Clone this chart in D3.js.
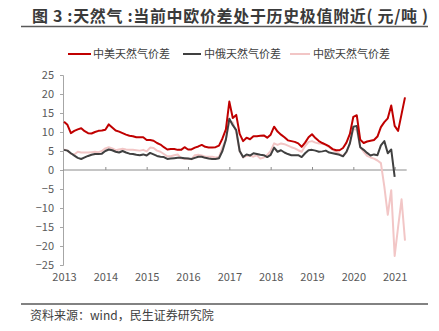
<!DOCTYPE html>
<html><head><meta charset="utf-8">
<script src="https://cdn.jsdelivr.net/npm/d3@7"></script>
<style>
body{margin:0;background:#fff;}
svg{display:block;font-family:"Noto Sans CJK SC","Noto Sans",sans-serif;}
</style></head>
<body><svg id="c" width="439" height="331"></svg>
<script>
const yearLabels = ["2013","2014","2015","2016","2017","2018","2019","2020","2021"];
const seriesNames = ["中美天然气价差","中俄天然气价差","中欧天然气价差"];
// monthly values, Jan 2013 onward
const usSpread = [12.7,11.9,9.7,10.3,10.7,11.0,10.2,9.7,9.6,10.0,10.3,10.4,10.6,12.0,11.2,10.4,10.1,9.7,9.3,9.0,
8.9,8.6,8.6,8.6,7.9,7.9,7.7,7.1,6.7,6.0,5.4,5.5,5.5,5.3,5.3,6.0,5.4,5.4,5.9,6.2,
6.6,6.1,5.9,5.9,6.0,6.4,8.3,10.7,18.0,13.7,14.5,9.5,7.6,8.5,8.1,8.9,8.9,9.0,9.1,8.5,
9.3,11.4,10.1,9.3,8.6,7.8,7.6,7.4,7.0,6.1,7.2,8.6,9.4,8.4,7.6,7.1,6.7,6.2,5.5,5.2,
5.2,5.8,7.2,9.5,14.0,14.4,8.0,7.1,7.5,7.7,7.9,8.8,11.3,12.6,13.6,17.0,11.6,10.3,14.7,19.1];
const ruSpread = [5.3,5.1,4.4,3.8,3.2,2.9,3.3,3.7,4.0,4.2,4.2,4.3,5.0,5.4,5.2,4.8,4.6,5.0,4.6,4.3,
4.2,4.0,3.9,4.1,3.8,4.5,4.1,3.7,3.5,3.4,2.9,3.0,3.1,3.2,3.2,3.1,3.0,2.9,3.2,3.5,
3.5,3.2,3.0,2.9,2.9,3.1,5.0,8.0,13.5,11.8,10.5,5.0,3.4,4.1,3.8,4.4,4.2,4.0,3.9,3.4,
4.0,5.9,4.8,5.2,4.6,4.2,3.9,3.9,3.9,3.4,4.4,5.2,5.3,5.1,4.8,4.9,5.1,4.6,4.4,4.2,
4.0,3.6,4.8,7.0,11.4,11.6,6.0,5.3,4.5,3.8,4.1,3.9,6.5,7.6,4.4,5.4,-1.8];
const euSpread = [5.4,5.1,4.3,4.1,4.8,4.6,4.6,4.6,4.7,4.8,4.7,5.0,5.7,6.0,5.7,5.2,5.4,5.6,5.4,5.3,
5.3,5.2,5.1,5.3,4.9,5.9,5.8,5.1,4.8,4.2,3.6,3.6,3.9,4.1,3.1,2.9,3.0,2.8,3.9,4.0,
3.8,3.5,3.5,3.5,3.3,3.4,6.0,8.0,12.8,12.5,10.0,5.0,3.3,3.7,3.8,3.5,3.9,3.0,3.3,4.0,
5.0,7.0,6.6,7.0,6.8,6.4,6.0,5.7,5.2,4.8,6.3,7.4,7.6,7.2,7.0,6.9,6.6,6.0,5.3,4.8,
4.2,3.7,4.6,7.0,10.8,10.6,6.0,4.8,3.7,3.3,3.0,2.5,1.8,-4.4,-11.8,-5.3,-22.6,-15.0,-7.7,-18.6];
const yTicks = [25,20,15,10,5,0,-5,-10,-15,-20,-25];

const colors = ["#C00000","#404040","#F2C6C6"];
const svg = d3.select("#c");
const x = d3.scaleLinear().domain([0,99]).range([64,405]);
const y = d3.scaleLinear().domain([-25,25]).range([265,75]);

// title
svg.append("text").attr("x",32).attr("y",22).attr("font-size",16).attr("font-weight","bold")
  .attr("fill","#3a3a3a").attr("textLength",396).attr("lengthAdjust","spacing")
  .text("图 3 :天然气 :当前中欧价差处于历史极值附近( 元/吨 )");
svg.append("line").attr("x1",21).attr("x2",428).attr("y1",26.5).attr("y2",26.5)
  .attr("stroke","#595959").attr("stroke-width",1.5);

// legend
const legX = [[68,91,93],[183,201,204],[290,310,313]];
seriesNames.forEach((n,i)=>{
  svg.append("line").attr("x1",legX[i][0]).attr("x2",legX[i][1]).attr("y1",54).attr("y2",54)
    .attr("stroke",colors[i]).attr("stroke-width",2);
  svg.append("text").attr("x",legX[i][2]).attr("y",58).attr("font-size",11).attr("fill","#404040").text(n);
});

// y axis
const ya = svg.append("g").attr("transform","translate(63,0)")
  .call(d3.axisLeft(y).tickValues(yTicks).tickSize(3).tickPadding(6).tickFormat(d3.format("d")));
ya.select(".domain").attr("stroke","#a6a6a6");
ya.selectAll(".tick line").attr("stroke","#a6a6a6");
ya.selectAll("text").attr("font-size",11).attr("fill","#595959").attr("font-family","Noto Sans CJK SC");

// x axis at zero
const xTickIdx = yearLabels.map((d,i)=>i*12);
const xa = svg.append("g").attr("transform",`translate(0,${y(0)})`)
  .call(d3.axisTop(x).tickValues(xTickIdx.slice(1)).tickSize(3).tickFormat(""));
xa.select(".domain").attr("d",`M${x(0)-1},0H406.7`).attr("stroke","#8c8c8c");
xa.selectAll(".tick line").attr("stroke","#8c8c8c");
// x labels at bottom
const xl = svg.append("g").attr("transform","translate(0,270)")
  .call(d3.axisBottom(x).tickValues(xTickIdx).tickSize(0).tickPadding(3).tickFormat((d,i)=>yearLabels[i]));
xl.select(".domain").remove();
xl.selectAll("text").attr("font-size",11).attr("fill","#595959").attr("font-family","Noto Sans CJK SC");

// lines
const line = d3.line().x((d,i)=>x(i)).y(d=>y(d)).curve(d3.curveLinear);
[euSpread, ruSpread, usSpread].forEach((s,k)=>{
  const ci = [2,1,0][k];
  svg.append("path").datum(s).attr("d",line).attr("fill","none")
    .attr("stroke",colors[ci]).attr("stroke-width",2).attr("stroke-linejoin","round");
});

// footer
svg.append("line").attr("x1",21).attr("x2",428).attr("y1",304).attr("y2",304)
  .attr("stroke","#595959").attr("stroke-width",1.5);
svg.append("text").attr("x",30).attr("y",320).attr("font-size",12).attr("fill","#404040")
  .text("资料来源：wind，民生证券研究院");
</script></body></html>
